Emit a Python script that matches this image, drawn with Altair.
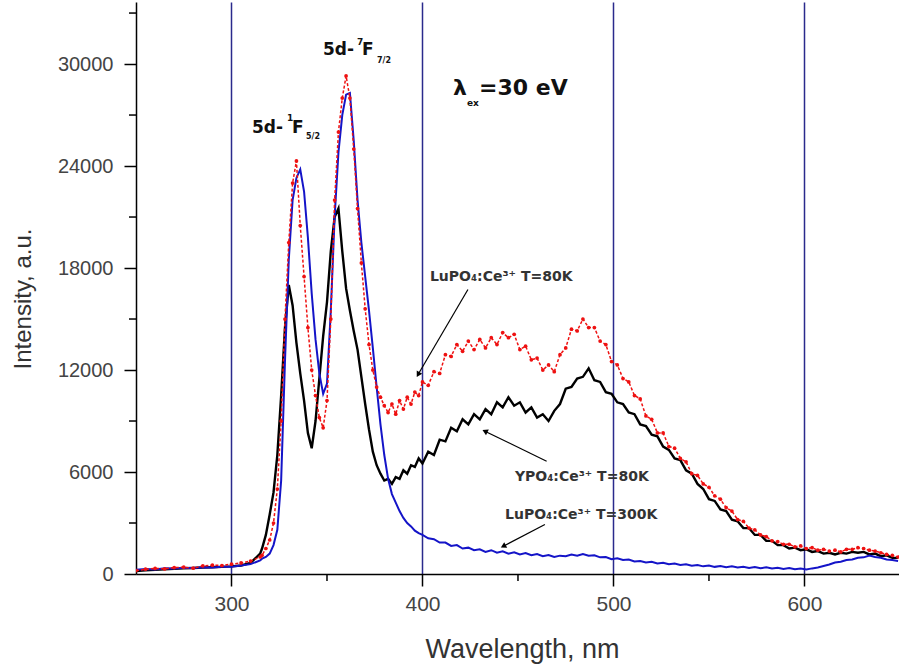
import altair as alt
import pandas as pd

# wavelength sampling (nm)
wl_a = [250, 255, 260, 265, 270, 275, 280, 285, 290, 295, 300, 305, 310, 315]
wl_b = list(range(316, 400, 2))
wl_c = list(range(400, 650, 3))

# LuPO4:Ce3+ T=300K (blue)
blue_a = [250, 300, 270, 340, 320, 370, 350, 400, 380, 430, 420, 500, 580, 800]
blue_b = [900, 1000, 1200, 1700, 2600, 5500, 12500, 18500, 22000, 23300,
          23800, 22500, 19800, 16500, 13800, 11800, 10600, 11200, 15500, 21000,
          24800, 27000, 28200, 28300, 25500, 22000, 19500, 17500, 15500, 13300,
          11000, 8800, 7000, 5600, 4700, 4200, 3700, 3300, 3000, 2800,
          2550, 2400]
blue_c = [2300, 2100, 2050, 1850, 1850, 1650, 1700, 1500, 1550, 1400,
          1450, 1300, 1400, 1250, 1330, 1200, 1280, 1150, 1230, 1100,
          1170, 1050, 1120, 1000, 1080, 1050, 1150, 1080, 1180, 1080,
          1100, 980, 1000, 870, 920, 820, 850, 740, 760, 680,
          720, 620, 660, 570, 610, 530, 570, 490, 530, 450,
          500, 420, 470, 400, 450, 380, 430, 360, 410, 340,
          390, 320, 370, 300, 350, 280, 320, 270, 330, 380,
          470, 560, 680, 720, 820, 850, 950, 980, 1080, 1000,
          950, 850, 820, 760]

# LuPO4:Ce3+ T=80K (red)
red_a = [200, 280, 330, 300, 380, 400, 340, 480, 520, 500, 580, 650, 760, 1000]
red_b = [1100, 1500, 2000, 3000, 5000, 9000, 15000, 19500, 23000, 24300,
         20500, 17500, 14500, 12000, 10500, 9200, 8600, 10200, 15000, 22000,
         26000, 28000, 29300, 28000, 25000, 21500, 18300, 15600, 13500, 12000,
         11000, 10400, 9900, 9500, 10000, 9400, 10200, 9700, 10400, 10000,
         10700, 10500]
red_c = [11300, 11100, 11900, 11800, 12900, 12800, 13500, 13100, 13700, 13200,
         13800, 13300, 13900, 13500, 14200, 13900, 14100, 13200, 13400, 12600,
         12700, 12000, 12300, 11900, 12900, 13300, 14400, 14300, 15000, 14500,
         14500, 13700, 13500, 12500, 12300, 11500, 11300, 10500, 10300, 9300,
         9100, 8300, 8300, 7500, 7400, 6800, 6600, 5900, 5800, 5300,
         5100, 4600, 4400, 3900, 3700, 3200, 3100, 2700, 2600, 2300,
         2200, 1950, 1900, 1750, 1750, 1600, 1650, 1500, 1550, 1400,
         1450, 1350, 1400, 1300, 1450, 1450, 1550, 1500, 1400, 1350,
         1250, 1150, 1100, 1000]

# YPO4:Ce3+ T=80K (black)
black_a = [180, 220, 250, 280, 300, 330, 350, 380, 400, 420, 450, 500, 650, 1200]
black_b = [1500, 2300, 3500, 4800, 7000, 10500, 14500, 17000, 15800, 13600,
           11800, 10200, 8300, 7400, 9000, 11500, 14000, 16000, 19000, 21000,
           21500, 19000, 16800, 15500, 14300, 13200, 11600, 10000, 8500, 7200,
           6400, 5900, 5500, 5600, 5300, 5700, 5600, 6100, 5900, 6400,
           6300, 6800]
black_c = [6500, 7200, 7000, 7900, 7800, 8600, 8400, 9100, 8800, 9400,
           9100, 9700, 9400, 10100, 9800, 10400, 9900, 10100, 9500, 9800,
           9200, 9400, 9000, 9600, 10000, 10900, 11000, 11500, 11600, 12100,
           11400, 11300, 10700, 10600, 10100, 10000, 9500, 9400, 8800, 8700,
           8200, 8100, 7500, 7300, 6800, 6700, 6100, 5900, 5300, 5000,
           4400, 4300, 3800, 3700, 3200, 3100, 2700, 2700, 2300, 2300,
           1950, 1950, 1700, 1700, 1500, 1550, 1400, 1450, 1300, 1350,
           1200, 1250, 1150, 1250, 1200, 1300, 1250, 1300, 1150, 1200,
           1050, 1100, 950, 950]

x_ticks = [300, 400, 500, 600]
x_minor = [350, 450, 550]
y_ticks = [0, 6000, 12000, 18000, 24000, 30000]
y_minor = [3000, 9000, 15000, 21000, 27000, 33000]

# annotations (data coordinates)
ann_text = ["5d-", "7", "F", "7/2", "5d-", "1", "F", "5/2", "λ", "ex", "=30 eV",
            "LuPO₄:Ce³⁺ T=80K", "YPO₄:Ce³⁺ T=80K", "LuPO₄:Ce³⁺ T=300K"]
ann_x = [347.9, 365.7, 368.3, 376.2, 310.7, 329.1, 331.7, 339.0, 416.0, 423.3, 429.6,
         403.9, 448.4, 443.2]
ann_y = [30850, 31320, 30850, 30200, 26260, 26850, 26260, 25735, 28620, 27730, 28620,
         17500, 5680, 3500]
ann_size = [17, 9, 17, 8, 17, 9, 17, 8, 22, 9, 22, 14, 14, 14]

arr_x1 = [423.8, 465.0, 464.1]
arr_y1 = [16735, 6635, 2912]
arr_x2 = [397.7, 432.7, 442.3]
arr_y2 = [11735, 8400, 1635]
arr_angle = [210, 296, 242]

wl = wl_a + wl_b + wl_c
assert len(blue_a + blue_b + blue_c) == len(wl)
assert len(red_a + red_b + red_c) == len(wl)
assert len(black_a + black_b + black_c) == len(wl)

df_blue = pd.DataFrame({"wl": wl, "v": blue_a + blue_b + blue_c})
df_red = pd.DataFrame({"wl": wl, "v": red_a + red_b + red_c})
df_black = pd.DataFrame({"wl": wl, "v": black_a + black_b + black_c})
df_ann = pd.DataFrame({"x": ann_x, "y": ann_y, "t": ann_text, "s": ann_size})
df_arr = pd.DataFrame({"x1": arr_x1, "y1": arr_y1, "x2": arr_x2, "y2": arr_y2, "a": arr_angle})

W, H = 763, 572
xs = alt.Scale(domain=[250, 649.5], nice=False, zero=False)
ys = alt.Scale(domain=[0, 33650], nice=False, zero=False)

x_axis = alt.Axis(values=x_ticks, grid=True, gridColor="#2a2a8c", gridWidth=1.5,
                  domainColor="black", domainWidth=1.5, tickColor="black", tickWidth=1.5,
                  tickSize=12, labelFont="Liberation Sans", labelFontSize=21,
                  labelColor="#444", labelPadding=7, title="Wavelength, nm",
                  titleFont="Liberation Sans", titleFontSize=27, titleFontWeight="normal",
                  titleColor="#333", titleX=386, titleY=83.5, titleBaseline="alphabetic",
                  titleAlign="center", format="d", labelFlush=False)
y_axis = alt.Axis(values=y_ticks, grid=False, domainColor="black", domainWidth=1.5,
                  tickColor="black", tickWidth=1.5, tickSize=12,
                  labelFont="Liberation Sans", labelFontSize=20, labelColor="#444",
                  labelPadding=11, title="Intensity, a.u.", titleFont="Liberation Sans",
                  titleFontSize=24, titleFontWeight="normal", titleColor="#333",
                  titleX=-106, titleY=296.5, titleAngle=270, titleBaseline="alphabetic",
                  titleAlign="center", format="d", labelFlush=False)

base_black = alt.Chart(df_black).mark_line(color="black", strokeWidth=2.4, clip=True).encode(
    x=alt.X("wl:Q", scale=xs, axis=x_axis),
    y=alt.Y("v:Q", scale=ys, axis=y_axis),
)
line_blue = alt.Chart(df_blue).mark_line(color="#1414c8", strokeWidth=2, clip=True).encode(
    x=alt.X("wl:Q", scale=xs), y=alt.Y("v:Q", scale=ys))
line_red = alt.Chart(df_red).mark_line(color="#ee1111", strokeWidth=1.5, strokeDash=[3, 2],
                                       clip=True).encode(
    x=alt.X("wl:Q", scale=xs), y=alt.Y("v:Q", scale=ys))
pts_red = alt.Chart(df_red).mark_point(color="#ee1111", filled=True, size=14, opacity=1,
                                       clip=True).encode(
    x=alt.X("wl:Q", scale=xs), y=alt.Y("v:Q", scale=ys))

xminor = alt.Chart(pd.DataFrame({"m": x_minor})).mark_rule(color="black", strokeWidth=1.5).encode(
    x=alt.X("m:Q", scale=xs), y=alt.value(H), y2=alt.value(H + 7))
yminor = alt.Chart(pd.DataFrame({"m": y_minor})).mark_rule(color="black", strokeWidth=1.5).encode(
    y=alt.Y("m:Q", scale=ys), x=alt.value(0), x2=alt.value(-7))

big = df_ann.iloc[:11]
small = df_ann.iloc[11:]
txt_big = alt.Chart(big).mark_text(font="DejaVu Sans", fontWeight="bold", align="left",
                                   baseline="middle", color="#111").encode(
    x=alt.X("x:Q", scale=xs), y=alt.Y("y:Q", scale=ys), text="t:N",
    size=alt.Size("s:Q", scale=None, legend=None))
txt_small = alt.Chart(small).mark_text(font="DejaVu Sans", fontWeight="bold", align="left",
                                       baseline="middle", color="#333").encode(
    x=alt.X("x:Q", scale=xs), y=alt.Y("y:Q", scale=ys), text="t:N",
    size=alt.Size("s:Q", scale=None, legend=None))

arrows = alt.Chart(df_arr).mark_rule(color="black", strokeWidth=1.2).encode(
    x=alt.X("x1:Q", scale=xs), y=alt.Y("y1:Q", scale=ys), x2="x2:Q", y2="y2:Q")
heads = alt.Chart(df_arr).mark_point(shape="triangle-up", filled=True, color="black",
                                     size=40, opacity=1).encode(
    x=alt.X("x2:Q", scale=xs), y=alt.Y("y2:Q", scale=ys),
    angle=alt.Angle("a:Q", scale=None))

chart = alt.layer(base_black, line_blue, line_red, pts_red, xminor, yminor,
                  txt_big, txt_small, arrows, heads).properties(
    width=W, height=H, autosize="none",
    padding={"left": 136, "top": 2, "right": 0, "bottom": 90},
    background="white",
).configure_view(stroke=None)

chart.save("out.html", embed_options={"renderer": "svg", "actions": False})
